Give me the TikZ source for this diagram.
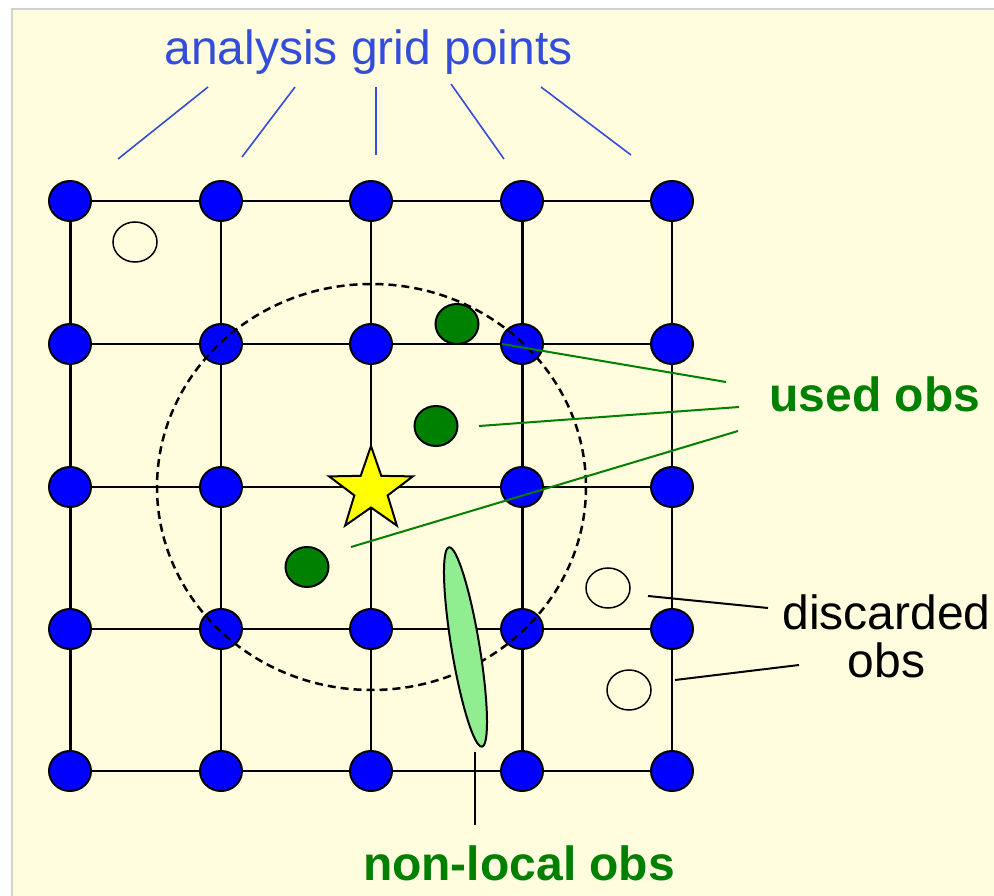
\documentclass[tikz,border=0pt]{standalone}
\usepackage{fontspec}
\setmainfont{Liberation Sans}
\usetikzlibrary{shapes.geometric,backgrounds}
\definecolor{bgyellow}{RGB}{255,253,222}
\definecolor{framegray}{RGB}{210,210,210}
\definecolor{lblue}{RGB}{51,77,217}
\definecolor{dgreen}{RGB}{0,128,0}
\definecolor{lgreen}{RGB}{144,238,144}
\definecolor{gblue}{RGB}{0,0,255}
\definecolor{staryellow}{RGB}{255,255,0}
\tikzset{
  gp/.style={ellipse,draw=black,line width=2pt,fill=gblue,minimum width=42pt,minimum height=40pt,inner sep=0pt},
  usedob/.style={ellipse,draw=black,line width=2pt,fill=dgreen,minimum width=43pt,minimum height=40pt,inner sep=0pt},
  discob/.style={ellipse,draw=black,line width=1.5pt,minimum width=44pt,minimum height=40pt,inner sep=0pt},
  gridthin/.style={draw=black,line width=2pt},
  gridthick/.style={draw=black,line width=3pt},
  bluelead/.style={draw=lblue,line width=1.6pt},
  greenlead/.style={draw=dgreen,line width=2pt},
  blacklead/.style={draw=black,line width=2pt},
  lbl/.style={inner sep=0pt,outer sep=0pt,font=\fontsize{48}{48}\selectfont},
  radius/.style={draw=black,line width=2.5pt,dash pattern=on 8pt off 5pt},
  starshape/.style={draw=black,line width=2pt,fill=staryellow,line join=miter},
  nonlocal/.style={draw=black,line width=2pt,fill=lgreen}
}
\begin{document}
\begin{tikzpicture}[x=1pt,y=-1pt]
\useasboundingbox (0,0) rectangle (994,896);
% grid points (the centre one is hidden under the star)
\foreach \i/\x in {1/70,2/221,3/371,4/522,5/672}{
  \foreach \j/\y in {1/201,2/344,3/487,4/629,5/771}{
    \ifnum\i\j=33
      \coordinate (g\i\j) at (\x,\y);
    \else
      \node[gp] (g\i\j) at (\x,\y) {};
    \fi
  }
}
\begin{scope}[on background layer]
  \fill[white] (0,0) rectangle (994,896);
  \fill[bgyellow] (13,10) rectangle (994,896);
  \draw[framegray,line width=2pt] (12,896) -- (12,9) -- (994,9);
  \foreach \j in {1,...,5}{
    \draw[gridthin] (g1\j.center) -- (g5\j.center);
  }
  \foreach \i/\s in {1/gridthick,2/gridthin,3/gridthin,4/gridthick,5/gridthin}{
    \draw[\s] (g\i1.center) -- (g\i5.center);
  }
\end{scope}
% observations
\node[discob] (d1) at (135,242) {};
\node[discob] (d2) at (608,588) {};
\node[discob] (d3) at (629,690) {};
\node[usedob] (u1) at (457,324) {};
\node[usedob] (u2) at (436,426) {};
\node[usedob] (u3) at (307,567) {};
% star (analysis point)
\coordinate (st) at (371,490);
\draw[starshape,shift={(st)}] (-90:44) -- (-54:17.5) -- (-18:44) -- (18:17.5) -- (54:44) -- (90:17.5) -- (126:44) -- (162:17.5) -- (198:44) -- (234:17.5) -- cycle;
% localization radius
\draw[radius] (371.5,487) ellipse [x radius=214.5, y radius=203];
% non-local obs
\coordinate (nl) at (465.5,647);
\draw[nonlocal,rotate around={9.4:(nl)}] (nl) ellipse [x radius=14, y radius=101];
% labels
\node[lbl,text=lblue,anchor=base] (tgrid) at (368.5,65) {analysis grid points};
\node[lbl,text=dgreen,anchor=base,font=\fontsize{48}{48}\selectfont\bfseries] (tused) at (875,411) {used obs};
\node[lbl,anchor=base,align=center] (tdisc) at (886.5,677) {discarded\\obs};
\node[lbl,text=dgreen,anchor=base,font=\fontsize{48}{48}\selectfont\bfseries] (tnon) at (519,880) {non-local obs};
% blue leaders
\coordinate (a1) at (208,87);  \coordinate (b1) at (118,159);
\coordinate (a2) at (295,87);  \coordinate (b2) at (242,157);
\coordinate (a3) at (375.7,87);\coordinate (b3) at (375.7,155);
\coordinate (a4) at (451,84);  \coordinate (b4) at (504,159);
\coordinate (a5) at (541,87);  \coordinate (b5) at (631,155);
\foreach \k in {1,...,5}{ \draw[bluelead] (a\k) -- (b\k); }
% green leaders
\coordinate (ue1) at (726,382); \coordinate (us1) at (502,344);
\coordinate (ue2) at (739,407); \coordinate (us2) at (479,426);
\coordinate (ue3) at (738,431); \coordinate (us3) at (351,547);
\foreach \k in {1,2,3}{ \draw[greenlead] (ue\k) -- (us\k); }
% discarded leaders
\coordinate (de1) at (768,608); \coordinate (ds1) at (648,596);
\coordinate (de2) at (799,665); \coordinate (ds2) at (675,680);
\draw[blacklead] (de1) -- (ds1);
\draw[blacklead] (de2) -- (ds2);
% non-local leader
\coordinate (nt) at (475,752); \coordinate (nb) at (475,825);
\draw[blacklead] (nt) -- (nb);
\end{tikzpicture}
\end{document}
